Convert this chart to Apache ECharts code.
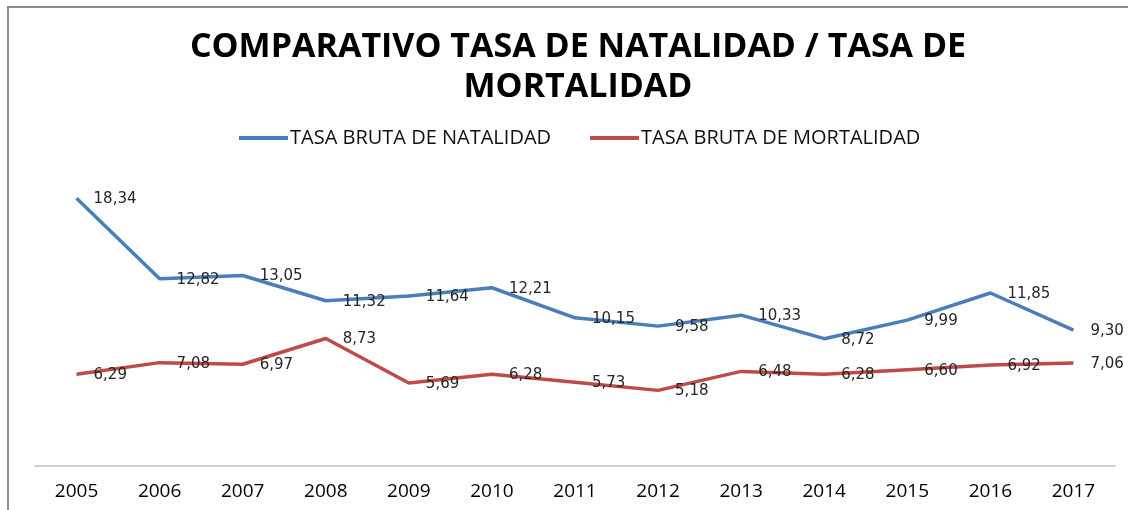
<!DOCTYPE html>
<html>
<head>
<meta charset="utf-8">
<script src="https://cdn.jsdelivr.net/npm/echarts@6/dist/echarts.min.js"></script>
<style>
  html, body { margin: 0; padding: 0; background: #fff; }
  #chart { width: 1128px; height: 510px; }
</style>
</head>
<body>
<div id="chart"></div>
<script>
const years = ['2005', '2006', '2007', '2008', '2009', '2010', '2011', '2012', '2013', '2014', '2015', '2016', '2017'];
const natalidad = [18.34, 12.82, 13.05, 11.32, 11.64, 12.21, 10.15, 9.58, 10.33, 8.72, 9.99, 11.85, 9.30];
const mortalidad = [6.29, 7.08, 6.97, 8.73, 5.69, 6.28, 5.73, 5.18, 6.48, 6.28, 6.60, 6.92, 7.06];

// etiquetas con coma decimal, como en el original
const fmt = (p) => p.value.toFixed(2).replace('.', ',');

const labelStyle = {
  show: true,
  position: 'right',
  distance: 17,
  offset: [0, 1],
  color: '#262626',
  fontFamily: 'DejaVu Sans',
  fontSize: 15,
  formatter: fmt
};

const chart = echarts.init(document.getElementById('chart'));

chart.setOption({
  animation: false,
  title: {
    text: 'COMPARATIVO TASA DE NATALIDAD / TASA DE\nMORTALIDAD',
    left: 573,
    textAlign: 'center',
    top: 22,
    textStyle: {
      fontFamily: 'Open Sans',
      fontWeight: 'bold',
      fontSize: 34,
      lineHeight: 40,
      color: '#000'
    }
  },
  legend: {
    top: 123,
    left: 234,
    itemWidth: 49,
    itemHeight: 4,
    itemGap: 39,
    icon: 'rect',
    textStyle: {
      fontFamily: 'Open Sans',
      fontSize: 20,
      color: '#111',
      padding: [0, 0, 0, -3]
    },
    data: ['TASA BRUTA DE NATALIDAD', 'TASA BRUTA DE MORTALIDAD']
  },
  grid: { left: 35, right: 13, top: 174, bottom: 44 },
  xAxis: {
    type: 'category',
    data: years,
    boundaryGap: true,
    axisLine: { lineStyle: { color: '#bfbfbf', width: 1.5 } },
    axisTick: { show: false },
    axisLabel: {
      margin: 16,
      fontFamily: 'Open Sans',
      fontSize: 19,
      color: '#000'
    }
  },
  yAxis: {
    type: 'value',
    min: 0,
    max: 20,
    show: false,
    splitLine: { show: false }
  },
  graphic: [{
    type: 'rect',
    shape: { x: 8, y: 7, width: 1200, height: 600 },
    style: { fill: 'none', stroke: '#8c8c8c', lineWidth: 2 },
    silent: true
  }],
  series: [
    {
      name: 'TASA BRUTA DE NATALIDAD',
      type: 'line',
      data: natalidad,
      symbol: 'circle',
      symbolSize: 0,
      lineStyle: { color: '#4a7ebb', width: 3.5 },
      itemStyle: { color: '#4a7ebb' },
      label: labelStyle
    },
    {
      name: 'TASA BRUTA DE MORTALIDAD',
      type: 'line',
      data: mortalidad,
      symbol: 'circle',
      symbolSize: 0,
      lineStyle: { color: '#be4b48', width: 3.5 },
      itemStyle: { color: '#be4b48' },
      label: labelStyle
    }
  ]
});
</script>
</body>
</html>
